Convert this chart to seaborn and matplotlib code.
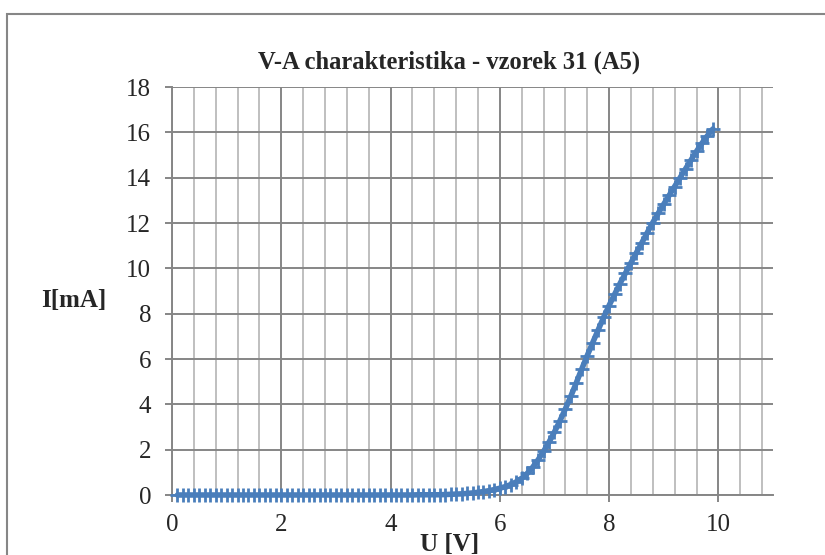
import numpy as np
import pandas as pd
import matplotlib
matplotlib.use("Agg")
import matplotlib.pyplot as plt
from matplotlib.patches import Rectangle
from matplotlib.ticker import MultipleLocator
import seaborn as sns

# Data
voltage = [round(0.1 * i, 1) for i in range(1, 100)]
current = ([0.0] * 44 +
           [0.01, 0.01, 0.01, 0.01, 0.01, 0.02,
            0.03, 0.04, 0.05, 0.07, 0.09, 0.12, 0.15, 0.19, 0.24,
            0.30, 0.37, 0.46, 0.58, 0.74, 0.95, 1.22, 1.55, 1.92, 2.33,
            2.78, 3.27, 3.80, 4.36, 4.95, 5.56, 6.15, 6.72, 7.28, 7.84,
            8.36, 8.85, 9.33, 9.79, 10.24, 10.69, 11.13, 11.58, 12.02, 12.43,
            12.83, 13.22, 13.61, 14.00, 14.39, 14.78, 15.16, 15.52, 15.85, 16.15])
title = "V-A charakteristika - vzorek 31 (A5)"
xlabel = "U [V]"
ylabel = "I[mA]"
xticks = [0, 2, 4, 6, 8, 10]
yticks = [0, 2, 4, 6, 8, 10, 12, 14, 16, 18]

df = pd.DataFrame({"U": voltage, "I": current})

sns.set_style("white")
plt.rcParams["font.family"] = ["Liberation Serif", "DejaVu Serif"]

fig = plt.figure(figsize=(8.25, 5.55), dpi=100)
ax = fig.add_axes([172/825, 1-495/555, (773-172)/825, (495-87)/555])

major_c = "#868686"
minor_c = "#BFBFBF"

ax.set_xlim(0, 11)
ax.set_ylim(0, 18)
ax.xaxis.set_major_locator(MultipleLocator(2))
ax.xaxis.set_minor_locator(MultipleLocator(0.4))
ax.yaxis.set_major_locator(MultipleLocator(2))
ax.set_xticks(xticks)
ax.set_yticks(yticks)
ax.grid(True, which="major", axis="both", color=major_c, lw=1.4, zorder=0)
ax.grid(True, which="minor", axis="x", color=minor_c, lw=1.4, zorder=0)
ax.set_axisbelow(True)

sns.lineplot(data=df, x="U", y="I", ax=ax, color="#4A7EBB", lw=4,
             marker="+", markersize=10.5, markeredgewidth=2,
             markeredgecolor="#4A7EBB", clip_on=False, zorder=3)

for s in ["top", "right"]:
    ax.spines[s].set_visible(False)
for s in ["left", "bottom"]:
    ax.spines[s].set_color(major_c)
    ax.spines[s].set_linewidth(1.4)

ax.tick_params(which="major", direction="out", length=5, width=1.4,
               color=major_c, labelsize=18, bottom=True, left=True)
ax.tick_params(axis="y", which="major", pad=10)
ax.tick_params(axis="x", which="major", pad=9)
ax.tick_params(which="minor", length=0)

ax.set_xlabel("")
ax.set_ylabel("")
fig.text(449/825, 1-62/555, title, fontsize=17.7, fontweight="bold",
         ha="center", va="center")
fig.text(450/825, 1-545/555, xlabel, fontsize=18, fontweight="bold",
         ha="center", va="center")
fig.text(74/825, 1-301/555, ylabel, fontsize=18, fontweight="bold",
         ha="center", va="center")

fig.patches.append(Rectangle((7/825, -0.2), 2, 1.2 - 14/555,
                             transform=fig.transFigure, fill=False,
                             edgecolor=major_c, lw=1.5))

fig.savefig("out.png", dpi=100)
